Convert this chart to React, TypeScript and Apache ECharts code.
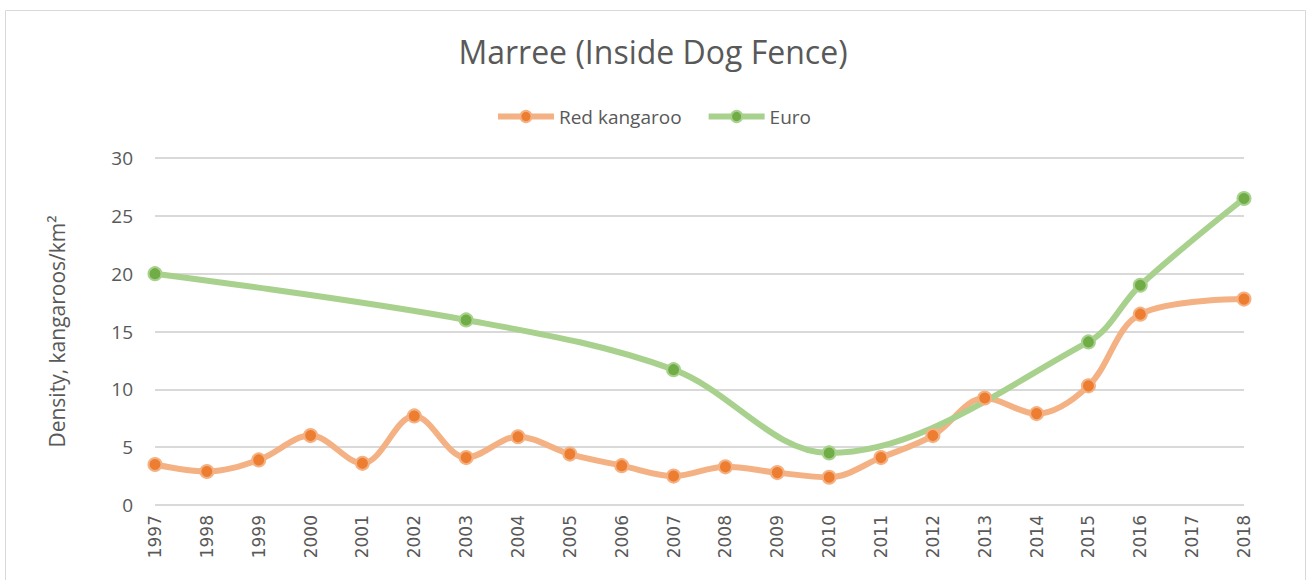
import React, { useEffect, useRef } from "react";
import * as echarts from "echarts";

const years = ["1997","1998","1999","2000","2001","2002","2003","2004","2005","2006","2007","2008","2009","2010","2011","2012","2013","2014","2015","2016","2017","2018"];
const redKangaroo: (number | null)[] = [3.5, 2.9, 3.9, 6.0, 3.6, 7.7, 4.1, 5.9, 4.4, 3.4, 2.5, 3.3, 2.8, 2.4, 4.1, 6.0, 9.25, 7.9, 10.3, 16.5, null, 17.8];
const euro: (number | null)[] = [20.0, null, null, null, null, null, 16.0, null, null, null, 11.7, null, null, 4.5, null, null, null, null, 14.1, 19.0, null, 26.5];

export default function App() {
  const ref = useRef<HTMLDivElement>(null);
  useEffect(() => {
    document.body.style.margin = "0";
    const chart = echarts.init(ref.current!, undefined, { renderer: "svg" });
    const font = "'Open Sans', 'Noto Sans', sans-serif";
    chart.setOption({
      animation: false,
      backgroundColor: "#fff",
      title: {
        text: "Marree (Inside Dog Fence)",
        left: "center",
        top: 30,
        textStyle: { fontFamily: font, fontWeight: "normal", fontSize: 32, color: "#595959" },
      },
      legend: {
        top: 102,
        left: "center",
        itemWidth: 56,
        itemHeight: 14,
        itemGap: 24,
        lineStyle: { width: 6 },
        textStyle: { fontFamily: font, fontSize: 19, color: "#595959" },
        data: ["Red kangaroo", "Euro"],
      },
      grid: { left: 155, right: 62, top: 158, bottom: 75, containLabel: false },
      xAxis: {
        type: "category",
        data: years,
        boundaryGap: false,
        axisLine: { show: false },
        axisTick: { show: false },
        axisLabel: { rotate: 90, margin: 10, fontFamily: "'DejaVu Sans', sans-serif", fontSize: 17, color: "#595959" },
      },
      yAxis: {
        type: "value",
        min: 0,
        max: 30,
        interval: 5,
        name: "Density, kangaroos/km²",
        nameLocation: "middle",
        nameGap: 88,
        nameTextStyle: { fontFamily: font, fontSize: 21, color: "#595959" },
        axisLine: { show: false },
        axisTick: { show: false },
        axisLabel: { fontFamily: font, fontSize: 19, color: "#595959", margin: 22 },
        splitLine: { lineStyle: { color: "#d9d9d9", width: 2 } },
      },
      series: [
        {
          name: "Red kangaroo",
          type: "line",
          data: redKangaroo,
          connectNulls: true,
          smooth: 0.35,
          symbol: "circle",
          symbolSize: 13,
          lineStyle: { color: "#F4B183", width: 6 },
          itemStyle: { color: "#ED7D31", borderColor: "#F4B183", borderWidth: 2 },
        },
        {
          name: "Euro",
          type: "line",
          data: euro,
          connectNulls: true,
          smooth: 0.35,
          symbol: "circle",
          symbolSize: 13,
          lineStyle: { color: "#A9D18E", width: 6 },
          itemStyle: { color: "#70AD47", borderColor: "#A9D18E", borderWidth: 2 },
        },
      ],
      graphic: [
        {
          type: "rect",
          left: 3,
          top: 8,
          shape: { width: 1300, height: 575 },
          style: { fill: "none", stroke: "#d9d9d9", lineWidth: 1 },
          silent: true,
          z: -1,
        },
      ],
    });
    return () => chart.dispose();
  }, []);
  return <div ref={ref} style={{ width: 1306, height: 580 }} />;
}
